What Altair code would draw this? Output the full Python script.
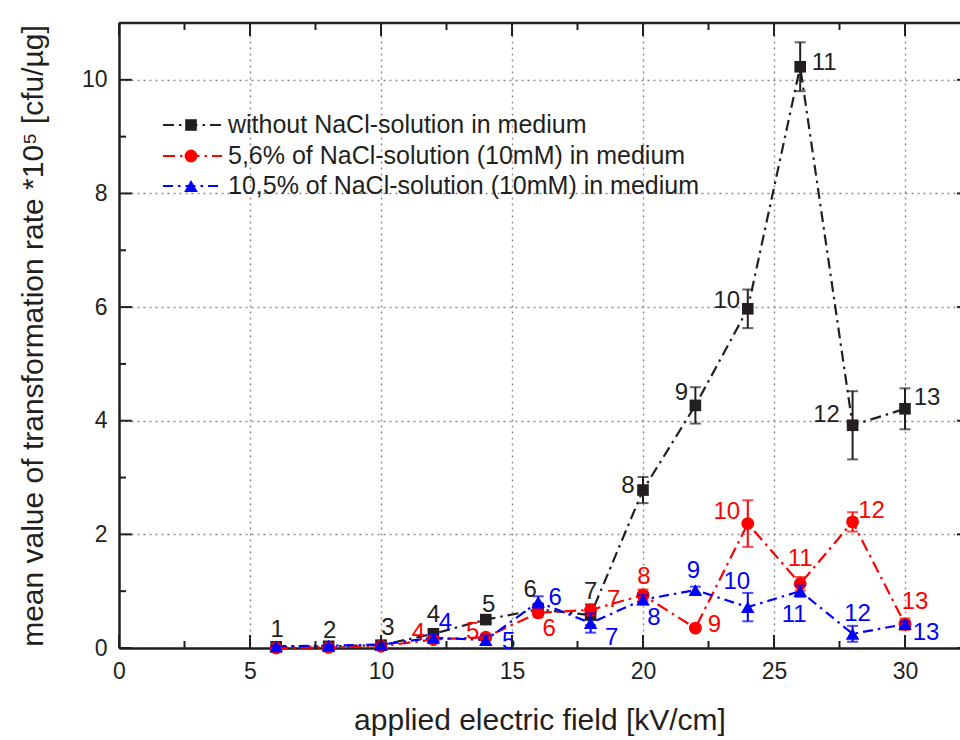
import altair as alt
import pandas as pd

# ---------------- data ----------------
field_kv = [6, 8, 10, 12, 14, 16, 18, 20, 22, 24, 26, 28, 30]
point_ids = [1, 2, 3, 4, 5, 6, 7, 8, 9, 10, 11, 12, 13]

series_names = [
    "without NaCl-solution in medium",
    "5,6% of NaCl-solution (10mM) in medium",
    "10,5% of NaCl-solution (10mM) in medium",
]

black_mean = [0.02, 0.03, 0.05, 0.25, 0.50, 0.68, 0.58, 2.78, 4.27, 5.97, 10.23, 3.92, 4.21]
black_err = [0.01, 0.02, 0.03, 0.05, 0.05, 0.10, 0.18, 0.23, 0.32, 0.34, 0.43, 0.60, 0.36]

red_mean = [0.00, 0.01, 0.03, 0.15, 0.19, 0.62, 0.67, 0.93, 0.35, 2.19, 1.13, 2.22, 0.42]
red_err = [0.01, 0.01, 0.02, 0.04, 0.05, 0.08, 0.10, 0.10, 0.05, 0.41, 0.12, 0.17, 0.10]

blue_mean = [0.03, 0.04, 0.06, 0.18, 0.14, 0.81, 0.44, 0.85, 1.02, 0.72, 1.00, 0.25, 0.42]
blue_err = [0.01, 0.01, 0.02, 0.06, 0.08, 0.10, 0.17, 0.08, 0.06, 0.25, 0.10, 0.14, 0.05]

x_major = [0, 5, 10, 15, 20, 25, 30]
x_minor = [2.5, 7.5, 12.5, 17.5, 22.5, 27.5]
y_major = [0, 2, 4, 6, 8, 10]
y_minor = [1, 3, 5, 7, 9]

# label placement (pixel offsets of each point number from its marker)
black_lab_dx = [1, 1, 7, 0, 3, -8, 0, -15, -14, -21, 24, -26, 22]
black_lab_dy = [-17, -15, -17, -19, -15, -19, -23, -4, -12, -8, -4, -10, -11]
red_lab_dx = [None, None, None, -15, -13, 11, 23, 1, 19, -21, 0, 19, 10]
red_lab_dy = [None, None, None, -6, -5, 16, -10, -18, -3, -12, -25, -11, -22]
blue_lab_dx = [None, None, None, 12, 23, 17, 21, 11, -2, -11, -6, 5, 21]
blue_lab_dy = [None, None, None, -15, 2, -4, 15, 18, -19, -25, 24, -20, 9]

# ---------------- styles ----------------
INK = "#231f20"
FONT = "Liberation Sans"
W, H = 841, 625
colors = [INK, "#ff0000", "#0000ff"]
shapes = ["square", "circle", "triangle-up"]
sizes = [135, 165, 185]
dashes = [[11, 5, 2.5, 5], [12, 5, 2.5, 5], [10, 5, 2.5, 5]]
means = [black_mean, red_mean, blue_mean]
errs = [black_err, red_err, blue_err]
lab_dx = [black_lab_dx, red_lab_dx, blue_lab_dx]
lab_dy = [black_lab_dy, red_lab_dy, blue_lab_dy]

rows = []
for s, name in enumerate(series_names):
    for i, xv in enumerate(field_kv):
        m = means[s][i]
        e = errs[s][i]
        rows.append({"series": name, "x": xv, "y": m, "lo": max(m - e, 0), "hi": m + e,
                     "pid": str(point_ids[i]), "idx": i})
df = pd.DataFrame(rows)

xscale = alt.Scale(domain=[0, 32.1], nice=False, zero=False)
yscale = alt.Scale(domain=[0, 11], nice=False, zero=False)
xaxis = alt.Axis(values=x_major, title="applied electric field [kV/cm]", tickSize=0,
                 grid=True, gridDash=[2, 4], gridColor="#8a8a8a", gridWidth=1.4,
                 domainColor=INK, domainWidth=2.5, labelFontSize=23, labelFont=FONT,
                 labelColor=INK, labelPadding=12, titleFontSize=30, titleFont=FONT,
                 titleFontWeight="normal", titleColor=INK, titleY=72, titleBaseline="middle",
                 labelFlush=False)
yaxis = alt.Axis(values=y_major, title="mean value of transformation rate *10\u2075 [cfu/\u00b5g]",
                 tickSize=0, grid=True, gridDash=[2, 4], gridColor="#8a8a8a", gridWidth=1.4,
                 domainColor=INK, domainWidth=2.5, labelFontSize=23, labelFont=FONT,
                 labelColor=INK, labelPadding=12, titleFontSize=30, titleFont=FONT,
                 titleFontWeight="normal", titleColor=INK, titleX=-86, titleY=H / 2,
                 titleBaseline="middle", titleAngle=-90, labelFlush=False)


def X(field):
    return alt.X(field, type="quantitative", scale=xscale, axis=xaxis)


def Y(field):
    return alt.Y(field, type="quantitative", scale=yscale, axis=yaxis)


base = alt.Chart(df)
layers = []

# lines
for s, name in enumerate(series_names):
    layers.append(
        base.transform_filter(alt.datum.series == name)
        .mark_line(color=colors[s], strokeWidth=2.2, strokeDash=dashes[s])
        .encode(x=X("x"), y=Y("y"), order="x:Q")
    )

# error bars and markers
for s, name in enumerate(series_names):
    f = base.transform_filter(alt.datum.series == name)
    layers.append(f.mark_rule(color=colors[s], strokeWidth=2).encode(x=X("x"), y=Y("lo"), y2="hi"))
    layers.append(f.mark_tick(color=colors[s], orient="horizontal", size=11, thickness=2)
                  .encode(x=X("x"), y=Y("lo")))
    layers.append(f.mark_tick(color=colors[s], orient="horizontal", size=11, thickness=2)
                  .encode(x=X("x"), y=Y("hi")))
    layers.append(f.mark_point(shape=shapes[s], filled=True, color=colors[s], size=sizes[s], opacity=1)
                  .encode(x=X("x"), y=Y("y")))

# point number labels
for s, name in enumerate(series_names):
    for i in range(len(field_kv)):
        dx = lab_dx[s][i]
        dy = lab_dy[s][i]
        if dx is None:
            continue
        layers.append(
            base.transform_filter((alt.datum.series == name) & (alt.datum.idx == i))
            .mark_text(color=colors[s], font=FONT, fontSize=24, dx=dx, dy=dy,
                       align="center", baseline="middle")
            .encode(x=X("x"), y=Y("y"), text="pid:N")
        )

# inward ticks and top border
def tick_layer(vals, axis_dim, p0, p1):
    d = alt.Chart(pd.DataFrame({"v": vals}))
    if axis_dim == "x":
        return d.mark_rule(color=INK, strokeWidth=2).encode(x=X("v"), y=alt.value(p0), y2=alt.value(p1))
    return d.mark_rule(color=INK, strokeWidth=2).encode(y=Y("v"), x=alt.value(p0), x2=alt.value(p1))

layers.append(tick_layer(x_major, "x", H, H - 13))
layers.append(tick_layer(x_minor, "x", H, H - 7))
layers.append(tick_layer(x_major, "x", 0, 13))
layers.append(tick_layer(x_minor, "x", 0, 7))
layers.append(tick_layer(y_major, "y", 0, 13))
layers.append(tick_layer(y_minor, "y", 0, 7))
layers.append(tick_layer(y_major, "y", W, W - 3))

layers.append(
    alt.Chart(pd.DataFrame({"v": [0]})).mark_rule(color=INK, strokeWidth=2.5)
    .encode(x=alt.value(0), x2=alt.value(W), y=alt.value(0))
)

# legend
leg_rows = [102, 133, 163]
for s, name in enumerate(series_names):
    ld = alt.Chart(pd.DataFrame({"name": [name]}))
    yy = leg_rows[s]
    layers.append(ld.mark_rule(color=colors[s], strokeWidth=2.2, strokeDash=dashes[s])
                  .encode(x=alt.value(44), x2=alt.value(103), y=alt.value(yy)))
    layers.append(ld.mark_point(shape=shapes[s], filled=True, color=colors[s], size=sizes[s], opacity=1)
                  .encode(x=alt.value(72), y=alt.value(yy)))
    layers.append(ld.mark_text(color=INK, font=FONT, fontSize=25, align="left", baseline="middle")
                  .encode(x=alt.value(109), y=alt.value(yy), text="name:N"))

chart = alt.layer(*layers).properties(
    width=W, height=H,
    padding={"left": 119, "top": 23, "right": 0, "bottom": 92},
    autosize=alt.AutoSizeParams(type="none"),
).configure_view(stroke=None).configure(background="white")

chart.save("out.html", embed_options={"renderer": "svg", "actions": False})
